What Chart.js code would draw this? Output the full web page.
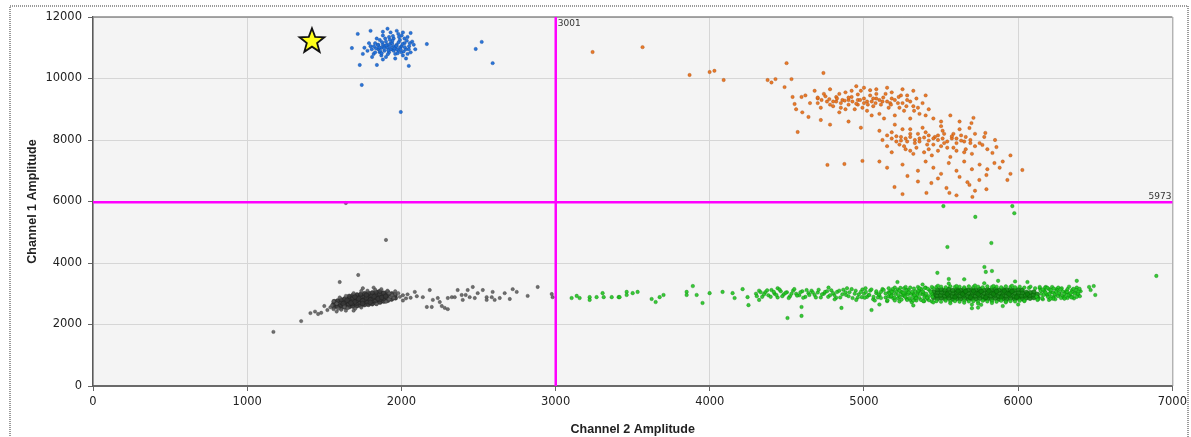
<!DOCTYPE html>
<html><head><meta charset="utf-8">
<script src="https://cdn.jsdelivr.net/npm/chart.js@4/dist/chart.umd.min.js"></script>
<style>html,body{margin:0;padding:0;background:#fff;}#wrap{position:relative;width:1191px;height:437px;}</style>
</head><body><div id="wrap"><canvas id="c" width="1191" height="437"></canvas></div>
<script>
// ---- data (Channel 2 amplitude, Channel 1 amplitude) ----
const xTicks = [0,1000,2000,3000,4000,5000,6000,7000];
const yTicks = [0,2000,4000,6000,8000,10000,12000];
const thresholdX = 3001;
const thresholdY = 5973;
const starPoint = [1420, 11210];

const grayPts = [
[1170,1760],[1350,2110],[1410,2370],[1600,3380],[1720,3610],[1900,4750],[1640,5950],[1440,2420],[1460,2340],
[1520,2470],[1560,2500],[1610,2480],[1650,2530],[1700,2510],[1580,2420],[1480,2380],[1540,2560],[1690,2450],[1740,2550],[1630,2570],
[1500,2600],[1550,2620],[1840,2660],[1580,2680],[1900,2740],[1560,2760],[1920,2820],[1930,2900],[1940,2950],[1920,3020],[1960,3000],
[1780,3100],[1830,3130],[1870,3150],[1910,3100],[1960,3080],[1740,3090],[1690,3020],[1640,2930],[1600,2880],[1950,2860],[1990,2900],
[2010,2950],[2030,2850],[1980,3020],[1750,3180],[1820,3200],[1640,2450],[1590,2510],
[2040,2980],[2060,2870],[2100,2920],[2010,2780],[2087,3060],[2139,2890],[2165,2570],[2184,3120],[2197,2570],[2204,2800],[2236,2860],
[2249,2730],[2262,2600],[2281,2540],[2301,2500],[2301,2860],[2327,2890],[2346,2890],[2365,3120],[2391,2960],[2398,2800],[2417,2960],
[2430,3120],[2443,2890],[2463,3220],[2476,2860],[2495,3020],[2528,3120],[2553,2890],[2553,2800],[2586,2890],[2592,3060],[2605,2800],
[2638,2860],[2670,3020],[2703,2830],[2722,3150],[2748,3060],[2819,2930],[2884,3220],[2975,2990],[2981,2890]
];

const grayDensePts = [
[1562,2570],[1560,2660],[1565,2745],[1586,2585],[1583,2690],[1588,2772],[1611,2545],[1608,2628],[1613,2712],[1610,2805],
[1636,2565],[1634,2652],[1638,2741],[1633,2832],[1661,2575],[1658,2664],[1663,2752],[1660,2846],[1662,2918],
[1686,2592],[1684,2684],[1688,2772],[1685,2862],[1687,2948],[1711,2604],[1708,2692],[1713,2785],[1710,2873],[1712,2962],
[1736,2622],[1734,2715],[1738,2802],[1735,2893],[1737,2982],[1761,2644],[1758,2732],[1763,2824],[1760,2912],[1762,3004],
[1786,2652],[1784,2744],[1788,2833],[1785,2924],[1787,3012],[1811,2672],[1808,2763],[1813,2852],[1810,2943],[1812,3033],
[1836,2694],[1834,2782],[1838,2874],[1835,2962],[1837,3052],[1861,2722],[1858,2814],[1863,2902],[1860,2993],[1862,3078],
[1886,2754],[1884,2844],[1888,2932],[1885,3024],[1911,2784],[1908,2872],[1913,2963],[1910,3052],
[1936,2822],[1934,2914],[1938,3002],[1961,2862],[1959,2952],
[1698,2730],[1748,2770],[1798,2800],[1848,2840],[1723,2840],[1773,2870],[1823,2910],[1673,2700],[1648,2790],[1748,2680],
[1798,2720],[1873,2880],[1898,2920],[1623,2680],[1698,2900],[1773,2960]
];

const greenPts = [
[3104,2860],[3137,2930],[3156,2860],[3221,2890],[3221,2800],[3266,2890],[3305,3020],[3312,2890],[3364,2890],[3409,2890],[3415,2890],
[3461,3060],[3461,2960],[3500,3020],[3532,3060],[3623,2830],[3649,2730],[3675,2890],[3700,2960],[3850,3060],[3850,2960],[3890,3250],
[3915,2960],[3953,2700],[3999,3020],[4083,3060],[4148,3020],[4161,2860],[4213,3150],[4245,2890],[4251,2630],
[4300,3000],[4320,3100],[4340,2900],[4360,3050],[4380,2950],[4400,3120],[4420,3000],[4440,2880],[4460,3080],[4480,2980],[4500,3050],
[4520,2920],[4540,3100],[4560,3000],[4580,2950],[4600,3080],[4620,2900],[4640,3020],[4660,3100],[4680,2960],[4700,3040],[4720,2880],
[4740,3000],[4504,2210],[4595,2570],[4595,2280],[4320,2800],[4440,3180],
[4305,2920],[4330,3050],[4352,2980],[4372,3110],[4395,2900],[4415,3060],[4432,2960],[4452,3140],[4470,2920],[4492,3030],[4512,2860],
[4530,3000],[4548,3150],[4566,2940],[4588,3050],[4606,2870],[4628,3120],[4646,2960],[4668,3040],[4688,2880],[4706,3130],[4728,2980],
[4748,3060],[4768,2900],[4788,3110],[4808,2960],[4826,3060],[4846,2880],[4866,3130],[4884,2960],[4906,3050],[4926,2860],[4946,3100],
[4966,2980],[4986,2890],[4990,3140],
[4760,3080],[4780,2950],[4800,3020],[4820,2870],[4840,3100],[4860,2980],[4880,3050],[4900,2920],[4920,3150],[4940,3000],[4960,2880],
[4980,3060],[4854,2540],[4770,3200],[4890,3180],[4950,2800],[4810,2820],
[5000,3000],[5020,2900],[5040,3100],[5060,2820],[5080,3020],[5100,2950],[5120,3150],[5140,2880],[5160,3050],[5180,2980],[5200,3200],
[5220,2850],[5240,3050],[5260,2930],[5280,3120],[5300,2800],[5320,3000],[5340,2900],[5360,3100],[5380,2980],[5400,3200],[5049,2470],
[5217,3380],[5010,3180],[5070,2780],[5150,2760],[5230,2750],[5310,2720],[5390,2760],[5110,3060],[5190,3090],[5270,3010],[5350,3030],
[5030,2960],[5090,2880],[5170,2900],[5250,2960],[5330,2840],[5380,3300],
[5005,2870],[5012,3060],[5035,2960],[5048,3140],[5062,2900],[5080,3080],[5095,2980],[5110,2860],[5128,3120],[5140,3010],[5158,2920],
[5172,3090],[5190,2850],[5205,2990],[5218,3140],[5232,2900],[5248,3060],[5262,2960],[5276,2840],[5290,3120],[5305,3000],[5318,2900],
[5332,3080],[5345,2970],[5360,2860],[5372,3150],[5386,3040],[5398,2930],[5412,2830],[5425,3110],[5438,3000],[5420,2920],[5395,3190],
[5350,3220],[5300,3200],[5260,3180],[5340,2780],[5280,2800],[5200,2780],[5160,3180],
[5152,2790],[5166,3010],[5178,2930],[5186,3150],[5198,2880],[5212,3070],[5224,2960],[5236,3190],[5244,2810],[5256,3030],[5268,2900],
[5274,3110],[5286,2980],[5296,2860],[5312,3060],[5324,3170],[5328,2950],[5338,2860],[5352,3100],[5364,2990],[5370,2800],[5382,3070],
[5392,2880],[5404,3000],[5414,3160],[5422,2790],[5432,3060],[5444,2900],[5448,3180],[5180,3060],[5230,3100],[5290,3040],[5320,2780],
[5410,2870],[5360,3180],[5270,3220],[5440,2750],[5385,2760],
[5470,2760],[5500,2740],[5530,2770],[5560,2750],[5590,2760],[5620,2740],[5650,2770],[5680,2750],[5710,2760],[5740,2740],[5770,2770],
[5800,2750],[5830,2760],[5860,2740],[5890,2770],[5920,2750],[5950,2760],[5980,2750],[6010,2770],[6040,2780],
[5470,3220],[5500,3230],[5530,3210],[5560,3240],[5590,3220],[5620,3230],[5650,3210],[5680,3240],[5710,3220],[5740,3230],[5770,3210],
[5800,3240],[5830,3220],[5860,3230],[5890,3210],[5920,3240],[5950,3220],[5980,3210],[6010,3230],[6040,3200],[6070,3190],
[5450,2720],[5560,2690],[5650,2710],[5740,2680],[5830,2700],[5920,2720],[5700,2650],[5760,2640],
[5480,3260],[5600,3250],[5720,3270],[5840,3250],[5960,3260],[5550,3330],[5780,3340],[6080,3230],[6040,2760],[5440,3220],
[6120,2900],[6150,3000],[6170,3100],[6190,2950],[6210,3050],[6230,2880],[6250,3150],[6270,3000],[6290,2920],[6310,3080],[6330,2980],
[6350,3120],[6370,3040],[6390,2960],[6140,3180],[6200,2800],[6260,3200],[6320,2860],[6380,3200],[6130,2820],[6180,3220],[6240,2960],
[6160,2820],[6170,3080],[6185,2980],[6200,3150],[6215,2900],[6228,3040],[6240,2820],[6255,3110],[6268,2970],[6282,3180],[6295,2880],
[6308,3030],[6320,3150],[6335,2930],[6348,3060],[6362,2850],[6375,3120],[6388,3000],[6400,2920],[6405,3080],[6175,3200],[6220,3220],
[6330,3230],[6140,3220],[6125,2800],[6110,3180],
[6155,2860],[6165,2960],[6178,3040],[6192,2900],[6204,3000],[6212,3120],[6226,2840],[6236,2990],[6246,3070],[6258,2920],[6264,3020],
[6278,2860],[6288,3080],[6298,2990],[6306,2900],[6318,3060],[6326,2960],[6340,3020],[6352,2900],[6358,3160],[6366,3000],[6380,2900],
[6392,3080],[6398,3160],[6145,3100],[6160,3140],[6190,3190],[6210,2840],[6230,3170],[6275,3140],[6300,2840],[6345,2880],
[5476,3680],[5541,4520],[5722,5500],[5826,4650],[5515,5850],[5962,5850],[5975,5620],[5781,3870],[5790,3710],[5830,3740],[6896,3580],
[6460,3220],[6490,3250],[6500,2960],[6470,3120],[5550,3480],[5650,3470],[5870,3420],[5980,3400],[6060,3380],[6380,3420],[5700,2530],
[5740,2550],[5320,2620],[5900,2600],[5100,2650],[6000,2650]
];

const greenDensePts = [
[5452,2870],[5449,2960],[5453,3060],[5477,2840],[5474,2940],[5478,3040],[5476,3130],[5502,2860],[5499,2950],[5503,3050],[5501,3140],
[5527,2830],[5524,2930],[5528,3030],[5526,3120],[5552,2850],[5549,2950],[5553,3040],[5551,3150],[5577,2820],[5574,2920],[5578,3020],
[5576,3110],[5602,2840],[5599,2940],[5603,3040],[5601,3140],[5627,2830],[5624,2930],[5628,3030],[5626,3120],[5652,2850],[5649,2950],
[5653,3050],[5651,3150],[5677,2820],[5674,2920],[5678,3020],[5676,3120],[5702,2840],[5699,2940],[5703,3040],[5701,3140],[5727,2830],
[5724,2930],[5728,3030],[5726,3130],[5752,2850],[5749,2950],[5753,3050],[5751,3150],[5777,2820],[5774,2920],[5778,3020],[5776,3120],
[5802,2840],[5799,2940],[5803,3040],[5801,3140],[5827,2830],[5824,2930],[5828,3030],[5826,3130],[5852,2850],[5849,2950],[5853,3050],
[5851,3150],[5877,2820],[5874,2920],[5878,3020],[5876,3120],[5902,2840],[5899,2940],[5903,3040],[5901,3140],[5927,2830],[5924,2930],
[5928,3030],[5926,3130],[5952,2850],[5949,2950],[5953,3050],[5951,3140],[5977,2830],[5974,2920],[5978,3020],[5976,3120],[6002,2850],
[5999,2940],[6003,3040],[6001,3130],[6027,2840],[6024,2930],[6028,3030],[6026,3120],[6052,2860],[6049,2950],[6053,3050],[6077,2850],
[6074,2940],[6078,3040],[6102,2870],[6099,2960],[6103,3060],[6127,2880],[6124,2980],
[5590,2890],[5640,2990],[5690,2880],[5740,2990],[5790,2880],[5840,2990],[5890,2880],[5940,2990],[5660,3080],[5760,3080],[5860,3080],
[5960,3080],[5540,2990],[5610,3090],[5710,3090],[5810,3090],[5910,3090],[5990,2890],[6060,2990]
];

const bluePts = [
[1780,10900],[1800,11050],[1820,10800],[1830,11150],[1850,10950],[1860,11250],[1870,10750],[1880,11100],[1890,10900],[1900,11200],
[1910,11000],[1920,10850],[1930,11150],[1940,10950],[1950,11300],[1960,10800],[1970,11100],[1980,10900],[1990,11250],[2000,11050],
[2010,10750],[2020,11150],[2030,10950],[2040,11350],[2050,11050],[2060,10850],[2070,11200],[1790,11150],[1810,10700],[1840,11300],
[1860,10850],[1880,11400],[1900,10700],[1920,11350],[1940,11150],[1960,11000],[1980,11450],[2000,10850],[2020,11300],[2040,10800],
[1870,11000],[1890,11050],[1910,11100],[1930,10950],[1950,11050],[1970,10950],[1990,11000],[1850,11100],[1830,10850],[1950,10900],
[2010,11500],[1970,11550],[1930,11500],[1880,11520],[2060,11480],[2080,11100],[2090,10950],[1760,11000],[1750,10800],[2030,10650],
[1960,10650],[1880,10620],[1679,10990],[1717,11450],[2165,11120],[2482,10960],[2521,11190],[2592,10500],[1730,10440],[1841,10440],
[2048,10410],[1743,9790],[1996,8910],[1800,11550],[1910,11620],
[1835,10980],[1848,11080],[1862,10900],[1875,11180],[1888,10980],[1902,11080],[1915,10920],[1928,11050],[1942,11230],[1955,10980],
[1968,11060],[1982,11180],[1995,10950],[2008,11120],[2022,11020],[2035,11230],[2048,10950],[1895,11300],[1925,11260],[1985,11350],
[2015,10880],[1858,11010],[1912,10790],[1945,11380],[1872,10820],[2002,11400],[1822,11050],[1808,10950],[2055,11150],[1976,10820]
];

const orangePts = [
[3240,10860],[3564,11020],[3869,10114],[3999,10210],[4030,10250],[4090,9950],[4375,9950],[4426,9980],[4498,10500],[4530,9980],
[4485,9720],[4537,9400],[4595,9400],[4550,9170],[4570,8260],[4737,10180],[4400,9870],
[4620,9450],[4650,9200],[4680,9600],[4700,9350],[4720,9050],[4740,9500],[4760,9250],[4780,9650],[4800,9100],[4820,9400],[4840,8900],
[4860,9300],[4880,9550],[4900,9150],[4920,9400],[4940,9000],[4960,9300],[4980,9600],[5000,9200],[5020,8950],[5040,9450],[5060,9100],
[5080,9350],[5100,8850],[5120,9250],[5140,9500],[5160,9050],[5180,9350],[5200,8800],[5220,9200],[5240,9450],[5260,8950],[5280,9300],
[5300,8700],[5320,9100],[5340,9350],[5360,8850],[5380,9200],[4700,9200],[4780,9150],[4850,9050],[4900,9300],[4960,9150],[5020,9250],
[5060,9350],[5110,9150],[5170,9200],[5230,9050],[4820,9250],[4880,9000],[4990,9050],[5050,8800],[5130,8700],[5000,9700],[5080,9650],
[4950,9750],[5250,9650],[5320,9600],[5400,9450],[5420,9000],[4640,8750],[4720,8650],[4780,8500],[4900,8600],[4980,8400],[5200,8500],
[5100,8300],[4600,8900],[4560,9000],[4763,7190],[4873,7220],[4990,7320],
[4700,9380],[4725,9300],[4750,9420],[4775,9330],[4800,9250],[4825,9350],[4850,9200],[4875,9280],[4900,9380],[4925,9250],[4950,9180],
[4975,9300],[5000,9350],[5025,9150],[5050,9250],[5075,9200],[5100,9300],[5125,9380],[5150,9250],[5175,9150],[5200,9300],[5225,9400],
[5250,9200],[5275,9100],[5300,9250],[5325,8950],[5350,9050],[4840,9500],[4960,9480],[5080,9500],[5180,9550],[5280,9450],[4920,9600],
[5040,9620],[5150,9700],
[5120,8000],[5150,7800],[5180,8250],[5210,7950],[5240,8100],[5270,7700],[5300,8200],[5330,7900],[5360,8050],[5390,7600],[5420,8150],
[5450,7850],[5480,8000],[5510,8300],[5540,7750],[5570,8050],[5600,7900],[5630,8150],[5660,7700],[5690,8000],[5180,7600],[5250,8350],
[5320,7550],[5380,8400],[5440,7500],[5500,8450],[5560,7450],[5620,8350],[5700,7550],[5720,8200],[5460,8100],[5520,7900],[5280,7950],
[5350,8200],[5410,7850],[5580,8200],[5650,7950],[5150,8150],[5230,7850],[5300,8350],[5600,7650],[5480,7650],[5750,7900],[5780,8100],
[5800,7700],[5850,8000],
[5180,8050],[5210,8120],[5240,7980],[5270,8050],[5300,8100],[5330,8000],[5360,7950],[5390,8080],[5420,7980],[5450,8050],[5480,8150],
[5510,8050],[5540,7950],[5570,8120],[5600,8050],[5630,7980],[5660,8100],[5690,7900],[5720,7800],[5260,7800],[5340,7750],[5420,7700],
[5500,7800],[5580,7750],[5650,7600],[5400,8250],[5520,8200],[5300,7650],
[5198,6470],[5250,6240],[5405,6280],[5437,6600],[5282,6830],[5535,6440],[5554,6280],[5671,6630],[5684,6540],[5703,6150],[5748,6700],
[5794,6860],[5794,6400],[5930,6700],[5859,7770],[5833,7580],[5846,7250],[5768,7840],[5787,8230],[5710,8720],[5697,8550],[5684,8390],
[6027,7024],[5100,7300],[5150,7100],[5250,7200],[5350,7000],[5400,7300],[5450,7100],[5500,6900],[5550,7250],[5600,7000],[5650,7300],
[5700,7050],[5750,7200],[5800,7050],[5900,7300],[5950,7500],[5880,7100],[5620,6800],[5480,6750],[5350,6650],[5720,6350],[5600,6200],
[5950,6900],[5450,8700],[5500,8600],[5560,8800],[5620,8600],[5400,8800]
];

const toXY = a => a.map(p => ({x:p[0], y:p[1]}));

const overlay = {
  id:'overlay',
  beforeDraw(chart){
    const {ctx, chartArea:a} = chart;
    ctx.save();
    ctx.fillStyle = '#f4f4f4';
    ctx.fillRect(a.left, a.top, a.right-a.left, a.bottom-a.top);
    ctx.strokeStyle = '#9a9a9a';
    ctx.setLineDash([1,1]);
    ctx.lineWidth = 2;
    ctx.strokeRect(10, 6, 1178, 450);
    ctx.restore();
  },
  afterDatasetsDraw(chart){
    const {ctx, chartArea:a, scales:{x, y}} = chart;
    ctx.save();
    ctx.strokeStyle = '#8a8a8a'; ctx.lineWidth = 1.5;
    ctx.beginPath(); ctx.moveTo(a.left, a.top); ctx.lineTo(a.right, a.top); ctx.stroke();
    ctx.strokeStyle = '#a0a0a0'; ctx.lineWidth = 1;
    ctx.beginPath(); ctx.moveTo(a.right+0.5, a.top); ctx.lineTo(a.right+0.5, a.bottom); ctx.stroke();
    ctx.strokeStyle = '#ff00ff'; ctx.lineWidth = 2.5;
    const px = x.getPixelForValue(thresholdX), py = y.getPixelForValue(thresholdY);
    ctx.beginPath(); ctx.moveTo(px, a.top); ctx.lineTo(px, a.bottom); ctx.stroke();
    ctx.beginPath(); ctx.moveTo(a.left, py); ctx.lineTo(a.right, py); ctx.stroke();
    ctx.fillStyle = '#333'; ctx.font = '9px "DejaVu Sans"';
    ctx.textAlign = 'left'; ctx.textBaseline = 'top';
    ctx.fillText(String(thresholdX), px+2, a.top+2);
    ctx.textAlign = 'right'; ctx.textBaseline = 'bottom';
    ctx.fillText(String(thresholdY), a.right-1, py-1);
    const sx = x.getPixelForValue(starPoint[0]), sy = y.getPixelForValue(starPoint[1]);
    const R = 13, r = 5.4;
    ctx.beginPath();
    for (let i=0;i<10;i++){
      const ang = -Math.PI/2 + i*Math.PI/5;
      const rad = i%2===0 ? R : r;
      const qx = sx + rad*Math.cos(ang), qy = sy + rad*Math.sin(ang);
      i===0 ? ctx.moveTo(qx,qy) : ctx.lineTo(qx,qy);
    }
    ctx.closePath();
    ctx.fillStyle = '#ffff1a'; ctx.fill();
    ctx.strokeStyle = '#111'; ctx.lineWidth = 1.8; ctx.lineJoin='miter'; ctx.stroke();
    ctx.restore();
  }
};

const ds = (label, pts, fill, edge, r) => ({
  label, data: toXY(pts), backgroundColor: fill, borderColor: edge, borderWidth: 0.6,
  pointRadius: r, pointHoverRadius: r, showLine:false
});

new Chart(document.getElementById('c'), {
  type:'scatter',
  data:{ datasets:[
    ds('Gray', grayPts, 'rgba(95,95,95,0.9)', 'rgba(50,50,50,0.6)', 1.7),
    ds('Gray dense', grayDensePts, 'rgba(55,55,55,0.95)', 'rgba(30,30,30,0.7)', 2.3),
    ds('Green', greenPts, 'rgba(34,196,34,0.9)', 'rgba(0,120,0,0.55)', 1.8),
    ds('Green dense', greenDensePts, 'rgba(14,130,14,0.9)', 'rgba(0,85,0,0.6)', 2.3),
    ds('Blue', bluePts, 'rgba(30,110,215,0.95)', 'rgba(20,70,150,0.6)', 1.7),
    ds('Orange', orangePts, 'rgba(232,115,30,0.95)', 'rgba(160,70,10,0.6)', 1.7)
  ]},
  options:{
    responsive:false, animation:false, events:[],
    layout:{padding:{left:22,right:18,top:17,bottom:0}},
    plugins:{legend:{display:false}, tooltip:{enabled:false}},
    scales:{
      x:{ type:'linear', min:0, max:7000,
        afterBuildTicks: s => { s.ticks = xTicks.map(v=>({value:v})); },
        afterFit: s => { s.height = 51; },
        ticks:{ callback:v=>String(v), color:'#222', font:{family:'DejaVu Sans', size:11.5}, padding:4, maxRotation:0 },
        grid:{ color:'#d6d6d6', lineWidth:1, tickLength:5, tickColor:'#666' },
        border:{ color:'#6a6a6a', width:2 },
        title:{ display:true, text:'Channel 2 Amplitude', color:'#222', font:{family:'Liberation Sans', size:12.5, weight:'bold'}, padding:{top:0,bottom:0} }
      },
      y:{ min:0, max:12000,
        afterBuildTicks: s => { s.ticks = yTicks.map(v=>({value:v})); },
        afterFit: s => { s.width = 71; },
        ticks:{ callback:v=>String(v), color:'#222', font:{family:'DejaVu Sans', size:11.5}, padding:6 },
        grid:{ color:'#d6d6d6', lineWidth:1, tickLength:5, tickColor:'#666' },
        border:{ color:'#5a5a5a', width:1.5 },
        title:{ display:true, text:'Channel 1 Amplitude', color:'#222', font:{family:'Liberation Sans', size:12.5, weight:'bold'}, padding:{top:3,bottom:0} }
      }
    }
  },
  plugins:[overlay]
});
</script></body></html>
